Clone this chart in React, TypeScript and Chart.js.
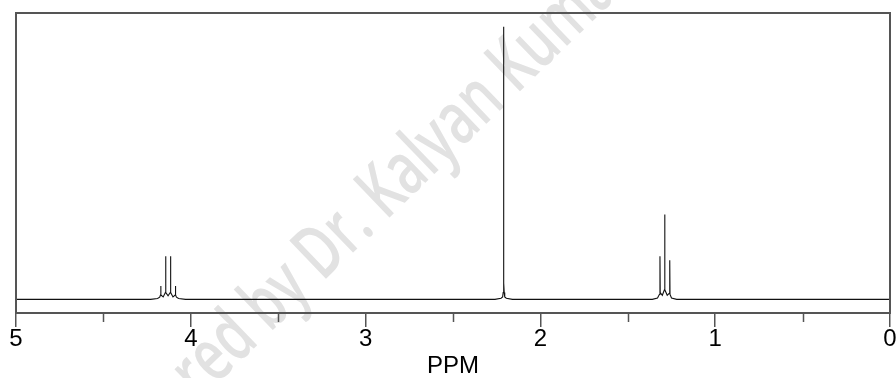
import { useEffect, useRef } from 'react';
import { Chart, registerables } from 'chart.js';

Chart.register(...registerables);

// Chemical shift (ppm) of each point along the trace, high field to the right.
const PPM = [
  5.0,
  // CH2 quartet
  4.23, 4.19, 4.178, 4.1735, 4.172, 4.1705, 4.158, 4.1455, 4.144, 4.1425, 4.13,
  4.1175, 4.116, 4.1145, 4.102, 4.0895, 4.088, 4.0865, 4.082, 4.07, 4.03,
  // CH3 singlet
  2.26, 2.225, 2.216, 2.213, 2.2115, 2.21, 2.2085, 2.207, 2.204, 2.195, 2.16,
  // CH3 triplet
  1.36, 1.33, 1.3195, 1.316, 1.3145, 1.3025, 1.2905, 1.289, 1.2875, 1.2745,
  1.2615, 1.26, 1.2585, 1.25, 1.22,
  0.0,
];

// Intensity above the baseline at each ppm value.
const INTENSITY = [
  0,
  0, 0.3, 0.8, 1.6, 4.9, 1.6, 0.9, 2.5, 15.8, 2.5, 1.3,
  2.5, 15.8, 2.5, 0.9, 1.6, 4.9, 1.6, 0.8, 0.3, 0,
  0, 0.4, 0.9, 2.5, 6, 100, 6, 2.5, 0.9, 0.4, 0,
  0, 0.5, 1.8, 15.8, 2.5, 1.5, 3.5, 31.1, 3.5, 1.5,
  2.3, 14.3, 1.8, 0.5, 0,
  0,
];

const PPM_MIN = 0;
const PPM_MAX = 5;
const MAJOR_STEP = 1;
const MINOR_TICKS = [4.5, 3.5, 2.5, 1.5, 0.5];
const AXIS_TITLE = 'PPM';
const WATERMARK = 'Prepared by Dr. Kalyan Kumar';

const FONT = '"Liberation Sans", Arial, Helvetica, sans-serif';
const FRAME_COLOR = '#555555';

const decorations = {
  id: 'spectrumDecorations',
  beforeDraw(chart: any) {
    // diagonal credit line behind the plot
    const { ctx } = chart;
    ctx.save();
    ctx.translate(366, 240);
    ctx.rotate((-44 * Math.PI) / 180);
    ctx.scale(0.7, 1);
    ctx.font = '600 74px "Open Sans"';
    ctx.fillStyle = '#e2e2e2';
    ctx.textBaseline = 'alphabetic';
    const lead = ctx.measureText('Prepared by Dr').width;
    ctx.fillText(WATERMARK, -lead, 0);
    ctx.restore();
  },
  afterDraw(chart: any) {
    const { ctx, chartArea } = chart;
    const xScale = chart.scales.x;
    ctx.save();
    ctx.strokeStyle = FRAME_COLOR;
    ctx.lineWidth = 2;
    ctx.strokeRect(
      chartArea.left,
      chartArea.top,
      chartArea.right - chartArea.left,
      chartArea.bottom - chartArea.top
    );
    ctx.lineWidth = 1.5;
    ctx.beginPath();
    for (const v of MINOR_TICKS) {
      const px = Math.round(xScale.getPixelForValue(v)) + 0.5;
      ctx.moveTo(px, chartArea.bottom);
      ctx.lineTo(px, chartArea.bottom + 9);
    }
    ctx.stroke();
    ctx.restore();
  },
};

export default function App() {
  const canvasRef = useRef<HTMLCanvasElement | null>(null);

  useEffect(() => {
    const canvas = canvasRef.current;
    if (!canvas) return;
    const points = PPM.map((x, i) => ({ x, y: INTENSITY[i] }));
    const chart = new Chart(canvas, {
      type: 'line',
      data: {
        datasets: [
          {
            data: points,
            borderColor: '#111111',
            borderWidth: 1.1,
            pointRadius: 0,
            tension: 0,
            fill: false,
          },
        ],
      },
      options: {
        animation: false,
        responsive: false,
        devicePixelRatio: 1,
        layout: { padding: { left: 16, right: 6, top: 13, bottom: 0 } },
        plugins: {
          legend: { display: false },
          tooltip: { enabled: false },
        },
        scales: {
          x: {
            type: 'linear',
            min: PPM_MIN,
            max: PPM_MAX,
            reverse: true,
            border: { display: false },
            grid: {
              drawOnChartArea: false,
              drawTicks: true,
              tickLength: 14,
              color: FRAME_COLOR,
              lineWidth: 1.5,
            },
            ticks: {
              stepSize: MAJOR_STEP,
              autoSkip: false,
              maxRotation: 0,
              padding: 0,
              color: '#000',
              font: { family: FONT, size: 24, lineHeight: 1 },
            },
            title: {
              display: true,
              text: AXIS_TITLE,
              color: '#000',
              padding: 0,
              font: { family: FONT, size: 24, lineHeight: 1 },
            },
            afterFit: (scale: any) => {
              scale.height = 65;
              scale.paddingLeft = 0;
              scale.paddingRight = 0;
            },
          },
          y: {
            display: false,
            min: -5,
            max: 105,
          },
        },
      },
      plugins: [decorations],
    } as any);
    return () => chart.destroy();
  }, []);

  return (
    <div style={{ position: 'fixed', left: 0, top: 0, width: 896, height: 378 }}>
      <canvas ref={canvasRef} width={896} height={378} />
    </div>
  );
}
